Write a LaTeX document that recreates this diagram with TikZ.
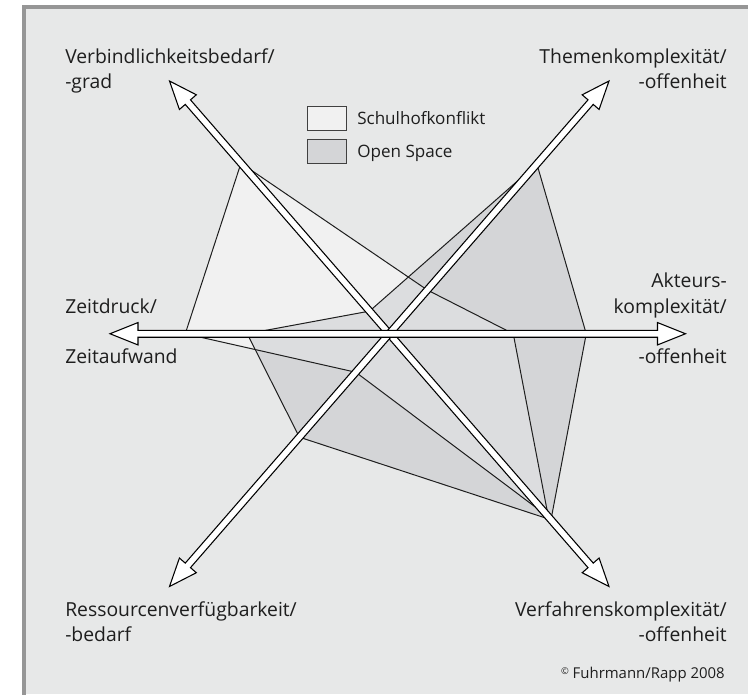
\documentclass[tikz,border=0pt]{standalone}
\usepackage{fontspec}
\setmainfont{Open Sans}
\usepackage{tikz}
\usetikzlibrary{shapes,arrows}
\usetikzlibrary{positioning}
\usetikzlibrary{calc}
\definecolor{mybg}{RGB}{231,232,232}
\definecolor{myframe}{RGB}{150,150,150}
\definecolor{mylight}{RGB}{241,241,241}
\definecolor{mygray}{RGB}{212,213,215}
\definecolor{myboth}{RGB}{220,221,223}
\definecolor{myline}{RGB}{30,30,30}
\newcommand\myheadlen{21pt}
\newcommand\myheadwid{8.4pt}
\newcommand\myshaftwid{2.6pt}
\newcommand\myaxis[2]{%
  \filldraw[axisbar] (#1)
    -- ($(#1)!\myheadlen!(#2)!\myheadwid!90:(#2)$)
    -- ($(#1)!\myheadlen!(#2)!\myshaftwid!90:(#2)$)
    -- ($(#2)!\myheadlen!(#1)!\myshaftwid!-90:(#1)$)
    -- ($(#2)!\myheadlen!(#1)!\myheadwid!-90:(#1)$)
    -- (#2)
    -- ($(#2)!\myheadlen!(#1)!\myheadwid!90:(#1)$)
    -- ($(#2)!\myheadlen!(#1)!\myshaftwid!90:(#1)$)
    -- ($(#1)!\myheadlen!(#2)!\myshaftwid!-90:(#2)$)
    -- ($(#1)!\myheadlen!(#2)!\myheadwid!-90:(#2)$)
    -- cycle;
}

\begin{document}
\begin{tikzpicture}[x=0.75pt, y=0.75pt,
axisbar/.style={fill=white, draw=black, line width=0.8pt},
poly/.style={draw=myline, line width=0.75pt},
lbl/.style={inner sep=0pt, text=myline, font=\fontsize{14.5}{17}\selectfont},
legbox/.style={draw=myline!85, line width=1pt, minimum width=29pt, minimum height=17.8pt, inner sep=0pt},
legtext/.style={inner sep=0pt, text=myline, text height=9.5pt, text depth=0pt, font=\fontsize{12.8}{15}\selectfont}
]
\useasboundingbox (-389.25,-360.25) rectangle (358.75,333.75);
\fill[white] (-389.25,-360.25) rectangle (358.75,333.75);
\fill[mybg] (-365.25,-360.25) rectangle (358.75,327.25);
\draw[myframe, line width=3pt] (-365.25,-362) -- (-365.25,327.25) -- (362,327.25);

\coordinate (C) at (0,0);
\coordinate (tl) at (-219.75,252.75);
\coordinate (tr) at (219.75,252.75);
\coordinate (bl) at (-219.75,-252.75);
\coordinate (br) at (219.75,-252.75);
\coordinate (lt) at (-279.25,0);
\coordinate (rt) at (296.25,0);

\foreach \a/\r [count=\i] in {131/226, 49/58, 0/124, -49/242.5, -131/51, 180/204}
  \coordinate (s\i) at (\a:\r);
\foreach \a/\r [count=\i] in {131/30, 49/225, 0/197, -49/246.5, -131/137, 180/142}
  \coordinate (o\i) at (\a:\r);

\fill[mylight] (s1) -- (s2) -- (s3) -- (s4) -- (s5) -- (s6) -- cycle;
\fill[mygray] (o1) -- (o2) -- (o3) -- (o4) -- (o5) -- (o6) -- cycle;
\begin{scope}
  \clip (s1) -- (s2) -- (s3) -- (s4) -- (s5) -- (s6) -- cycle;
  \fill[myboth] (o1) -- (o2) -- (o3) -- (o4) -- (o5) -- (o6) -- cycle;
\end{scope}
\draw[poly] (s1) -- (s2) -- (s3) -- (s4) -- (s5) -- (s6) -- cycle;
\draw[poly] (o1) -- (o2) -- (o3) -- (o4) -- (o5) -- (o6) -- cycle;

\myaxis{tl}{br}
\myaxis{tr}{bl}
\myaxis{lt}{rt}

\node[legbox, fill=mylight] (schulbox) at (-62.25,215.25) {};
\node[legbox, fill=mygray, below=6pt of schulbox] (openbox) {};
\node[legtext, right=7.5pt of schulbox] (schul) {Schulhofkonflikt};
\node[legtext, right=7.5pt of openbox] (open) {Open Space};

\node[lbl, anchor=base west] (verb) at (-324.25,270.75) {Verbindlichkeitsbedarf/};
\node[lbl, anchor=base west] (verbb) at (-324.25,245.75) {-grad};
\node[lbl, anchor=base east] (them) at (337.75,270.75) {Themenkomplexität/};
\node[lbl, anchor=base east] (themb) at (337.75,245.75) {-offenheit};
\node[lbl, anchor=base west] (zeit) at (-324.25,20.75) {Zeitdruck/};
\node[lbl, anchor=base west] (zeitb) at (-324.25,-29.5) {Zeitaufwand};
\node[lbl, anchor=base east] (akt) at (337.75,46.5) {Akteurs-};
\node[lbl, anchor=base east] (aktb) at (337.75,20.5) {komplexität/};
\node[lbl, anchor=base east] (aktc) at (337.75,-29.5) {-offenheit};
\node[lbl, anchor=base west] (res) at (-324.25,-283) {Ressourcenverfügbarkeit/};
\node[lbl, anchor=base west] (resb) at (-324.25,-308) {-bedarf};
\node[lbl, anchor=base east] (verf) at (337.75,-283) {Verfahrenskomplexität/};
\node[lbl, anchor=base east] (verfb) at (337.75,-308) {-offenheit};
\node[lbl, anchor=base east, font=\fontsize{11.2}{13}\selectfont] (copy) at (335.75,-344.5)
  {{\fontsize{7}{8}\selectfont\raisebox{2.5pt}{©}} Fuhrmann/Rapp 2008};
\end{tikzpicture}
\end{document}
